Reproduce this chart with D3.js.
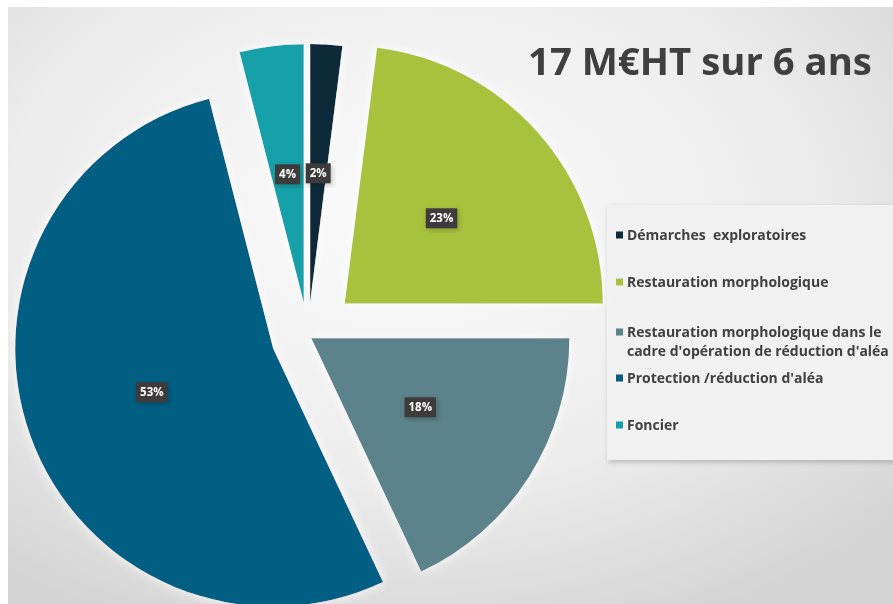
<head>
  <title>17 M€HT sur 6 ans</title>
  <style>
    body { margin: 0; background: white; }
    svg text { font-family: "Open Sans", "Noto Sans", sans-serif; }
    .legend text { font-weight: 700; fill: #404040; }
    .title { font-weight: 700; fill: #3f3f3f; }
    .label text { font-weight: 700; fill: white; }
  </style>
</head>
<body>
  <div id="chart"></div>
  <script src="https://cdn.jsdelivr.net/npm/d3@7"></script>
  <script>
    // data
    const categories = ["Démarches  exploratoires", "Restauration morphologique",
      "Restauration morphologique dans le cadre d'opération de réduction d'aléa",
      "Protection /réduction d'aléa", "Foncier"];
    const values = [2, 23, 18, 53, 4];
    const legendLines = [["Démarches\u00a0 exploratoires"], ["Restauration morphologique"],
      ["Restauration morphologique dans le", "cadre d'opération de réduction d'aléa"],
      ["Protection /réduction d'aléa"], ["Foncier"]];
    const colors = ["#0f2a3a", "#a9c23c", "#5b838b", "#035f82", "#13a0a9"];
    const title = "17 M€HT sur 6 ans";

    const width = 893, height = 604;

    let svg = d3.select("#chart").append("svg")
      .attr("width", width).attr("height", height);

    let defs = svg.append("defs");
    let bg = defs.append("radialGradient").attr("id", "bg")
      .attr("cx", "45%").attr("cy", "35%").attr("r", "75%");
    bg.append("stop").attr("offset", "0%").attr("stop-color", "#fbfbfb");
    bg.append("stop").attr("offset", "60%").attr("stop-color", "#ececec");
    bg.append("stop").attr("offset", "100%").attr("stop-color", "#d4d4d4");

    let shadow = defs.append("filter").attr("id", "shadow")
      .attr("x", "-20%").attr("y", "-20%").attr("width", "140%").attr("height", "140%");
    shadow.append("feDropShadow").attr("dx", 1.5).attr("dy", 2).attr("stdDeviation", 2.5)
      .attr("flood-color", "#000").attr("flood-opacity", 0.22);

    let glow = defs.append("filter").attr("id", "glow")
      .attr("x", "-10%").attr("y", "-10%").attr("width", "120%").attr("height", "120%");
    glow.append("feDropShadow").attr("dx", 0).attr("dy", 0).attr("stdDeviation", 6)
      .attr("flood-color", "#ffffff").attr("flood-opacity", 0.9);

    svg.append("rect").attr("x", 8).attr("y", 7)
      .attr("width", width - 8).attr("height", height - 7)
      .attr("fill", "url(#bg)");

    // legend panel
    svg.append("rect").attr("x", 607).attr("y", 205).attr("width", 300).attr("height", 255)
      .attr("fill", "#f1f1f1").attr("filter", "url(#shadow)");

    // pie
    const cx = 308, cy = 336, R = 258;
    const explode = [34, 49, 4, 37, 34];

    let pie = d3.pie().sort(null).value(d => d);
    let arc = d3.arc().innerRadius(0).outerRadius(R);
    let arcs = pie(values);

    function offset(d, i) {
      let a = (d.startAngle + d.endAngle) / 2;
      return [cx + explode[i] * Math.sin(a), cy - explode[i] * Math.cos(a)];
    }

    let slices = svg.append("g").attr("filter", "url(#glow)");
    slices.selectAll("path")
      .data(arcs)
      .enter().append("path")
        .attr("d", arc)
        .attr("fill", (d, i) => colors[i])
        .attr("transform", (d, i) => "translate(" + offset(d, i) + ")");

    let labels = svg.selectAll(".label")
      .data(arcs)
      .enter().append("g")
        .classed("label", true)
        .attr("transform", (d, i) => {
          let o = offset(d, i), c = arc.centroid(d);
          return "translate(" + (o[0] + c[0]) + "," + (o[1] + c[1]) + ")";
        });
    labels.append("rect").attr("fill", "#3c3a3a").attr("filter", "url(#shadow)");
    labels.append("text")
      .attr("text-anchor", "middle").attr("dy", "0.36em")
      .attr("font-size", 11.5)
      .text(d => d3.format(".0%")(d.value / d3.sum(values)));
    labels.each(function() {
      let g = d3.select(this);
      let w = g.select("text").node().getComputedTextLength();
      g.select("rect").attr("x", -w / 2 - 4).attr("y", -10).attr("width", w + 8).attr("height", 20);
    });

    // title, sized to the width it takes in the picture
    let t = svg.append("text").classed("title", true)
      .attr("x", 528).attr("y", 75).attr("font-size", 32).text(title);
    t.attr("font-size", 32 * 344 / t.node().getComputedTextLength());

    // legend
    const rows = [240, 287, 337, 383, 430];
    let legend = svg.append("g").classed("legend", true);
    legendLines.forEach((lines, i) => {
      legend.append("rect")
        .attr("x", 616).attr("y", rows[i] - 8.5).attr("width", 7).attr("height", 7)
        .attr("fill", colors[i]);
      lines.forEach((s, j) => {
        legend.append("text")
          .attr("x", 627).attr("y", rows[i] + j * 19)
          .attr("font-size", 12).text(s);
      });
    });
    // fit legend text to the longest line width in the picture
    let longest = d3.max(legend.selectAll("text").nodes(), n => n.getComputedTextLength());
    legend.selectAll("text").attr("font-size", 12 * 262 / longest);
  </script>
</body>
